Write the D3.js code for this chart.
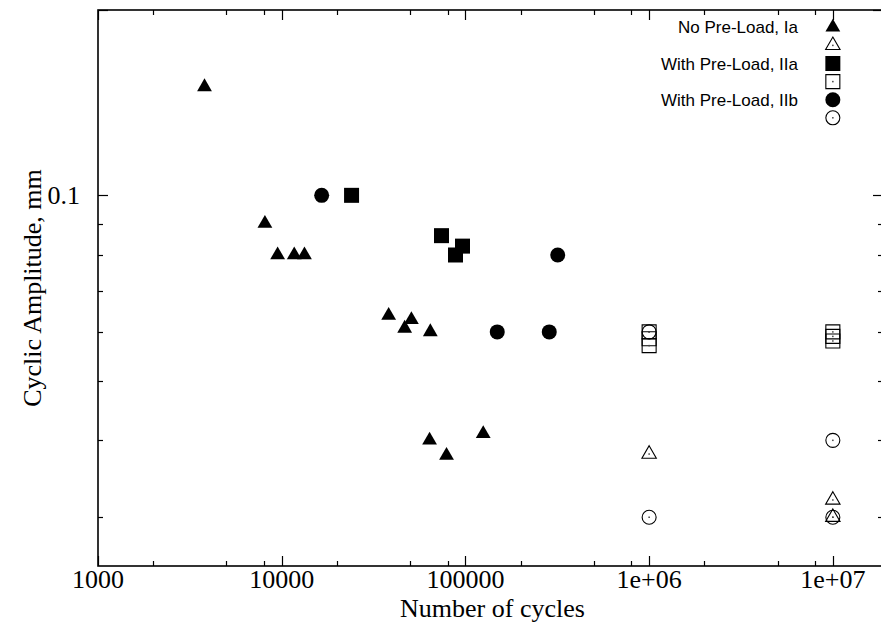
<!DOCTYPE html>
<html lang="en">
<head>
  <meta charset="UTF-8">
  <title>Cyclic Amplitude vs Number of cycles</title>
  <script src="https://cdn.jsdelivr.net/npm/d3@7"></script>
  <style>
    body { margin: 0; background: #fff; }
    svg { display: block; }
    .axis-text { font-family: "Liberation Serif", "Times New Roman", serif; font-size: 26px; fill: #000; }
    .legend-text { font-family: "Liberation Sans", Arial, sans-serif; font-size: 17px; fill: #000; }
  </style>
</head>
<body>
<div id="chart"></div>
<script>
  // No Pre-Load, Ia
  const iaCycles = [3800, 8100, 9500, 11700, 13300, 38200, 50800, 46700, 64400, 63800, 78900, 125000];
  const iaAmp    = [0.15, 0.09, 0.08, 0.08, 0.08, 0.0638, 0.0628, 0.0608, 0.06, 0.04, 0.0378, 0.041];
  // run-outs (open)
  const iaOpenCycles = [1e6, 1e7, 1e7];
  const iaOpenAmp    = [0.038, 0.032, 0.03];

  // With Pre-Load, IIa
  const iiaCycles = [24000, 74100, 96400, 88300];
  const iiaAmp    = [0.1, 0.086, 0.0827, 0.08];
  const iiaOpenCycles = [1e6, 1e6, 1e6, 1e7, 1e7, 1e7];
  const iiaOpenAmp    = [0.06, 0.0585, 0.057, 0.06, 0.059, 0.058];

  // With Pre-Load, IIb
  const iibCycles = [16500, 318000, 149000, 286000];
  const iibAmp    = [0.1, 0.08, 0.06, 0.06];
  const iibOpenCycles = [1e6, 1e6, 1e7, 1e7];
  const iibOpenAmp    = [0.06, 0.03, 0.04, 0.03];

  const xMajorTicks = [1000, 10000, 100000, 1e6, 1e7];
  const xTickLabels = ["1000", "10000", "100000", "1e+06", "1e+07"];
  const xMinorTicks = [2000, 5000, 8000, 20000, 50000, 80000, 200000, 500000, 800000, 2e6, 5e6, 8e6];
  const yMajorTicks = [0.1, 0.2];
  const yTickLabels = ["0.1", ""];
  const yMinorTicks = [0.03, 0.04, 0.05, 0.06, 0.07, 0.08, 0.09];

  const legendTitles = ["No Pre-Load, Ia", "", "With Pre-Load, IIa", "", "With Pre-Load, IIb", ""];

  const width = 881, height = 625;
  const plotLeft = 98, plotRight = 883, plotTop = 10, plotBottom = 566;

  const x = d3.scaleLog().domain([1000, 1.875e7]).range([plotLeft, plotRight]);
  const y = d3.scaleLog().domain([0.025, 0.2]).range([plotBottom, plotTop]);

  const svg = d3.select('#chart').append('svg')
    .attr('width', width)
    .attr('height', height);

  // symbol generators
  const filledTri = d3.symbol(d3.symbolTriangle, 95);
  const openTri = d3.symbol(d3.symbolTriangle, 90);
  const filledSq = d3.symbol(d3.symbolSquare, 225);
  const openSq = d3.symbol(d3.symbolSquare, 196);
  const filledCirc = d3.symbol(d3.symbolCircle, 177);
  const openCirc = d3.symbol(d3.symbolCircle, 154);

  const series = [
    { xs: iaCycles, ys: iaAmp, sym: filledTri, open: false },
    { xs: iaOpenCycles, ys: iaOpenAmp, sym: openTri, open: true },
    { xs: iiaCycles, ys: iiaAmp, sym: filledSq, open: false },
    { xs: iiaOpenCycles, ys: iiaOpenAmp, sym: openSq, open: true },
    { xs: iibCycles, ys: iibAmp, sym: filledCirc, open: false },
    { xs: iibOpenCycles, ys: iibOpenAmp, sym: openCirc, open: true }
  ];

  // ticks (inward, mirrored)
  const tickG = svg.append('g').attr('stroke', '#000').attr('stroke-width', 1.2);
  const xt = [...xMajorTicks.map(v => ({ v, len: 10 })), ...xMinorTicks.map(v => ({ v, len: 5 }))];
  const yt = [...yMajorTicks.map(v => ({ v, len: 10 })), ...yMinorTicks.map(v => ({ v, len: 5 }))];

  xt.forEach(t => {
    const px = Math.round(x(t.v)) + 0.5;
    tickG.append('line').attr('x1', px).attr('x2', px).attr('y1', plotBottom).attr('y2', plotBottom - t.len);
    tickG.append('line').attr('x1', px).attr('x2', px).attr('y1', plotTop).attr('y2', plotTop + t.len);
  });
  yt.forEach(t => {
    const py = Math.round(y(t.v)) + 0.5;
    tickG.append('line').attr('x1', plotLeft).attr('x2', plotLeft + t.len).attr('y1', py).attr('y2', py);
    tickG.append('line').attr('x1', plotRight).attr('x2', plotRight - t.len).attr('y1', py).attr('y2', py);
  });

  // border
  svg.append('rect')
    .attr('x', plotLeft).attr('y', plotTop)
    .attr('width', plotRight - plotLeft).attr('height', plotBottom - plotTop)
    .attr('fill', 'none').attr('stroke', '#000').attr('stroke-width', 1.6);

  // tick labels
  svg.selectAll('.xlab')
    .data(xMajorTicks)
    .join('text')
    .attr('class', 'axis-text')
    .attr('x', d => x(d))
    .attr('y', 588)
    .attr('text-anchor', 'middle')
    .text((d, i) => xTickLabels[i]);

  svg.selectAll('.ylab')
    .data(yMajorTicks)
    .join('text')
    .attr('class', 'axis-text')
    .attr('x', 80)
    .attr('y', d => y(d) + 9)
    .attr('text-anchor', 'end')
    .text((d, i) => yTickLabels[i]);

  // axis titles
  svg.append('text')
    .attr('class', 'axis-text')
    .attr('x', (plotLeft + 881) / 2 + 3)
    .attr('y', 617)
    .attr('text-anchor', 'middle')
    .text('Number of cycles');

  svg.append('text')
    .attr('class', 'axis-text')
    .attr('transform', 'translate(41,288) rotate(-90)')
    .attr('text-anchor', 'middle')
    .text('Cyclic Amplitude, mm');

  // points
  const drawMarker = (g, s, px, py) => {
    g.append('path')
      .attr('transform', `translate(${px},${py})`)
      .attr('d', s.sym())
      .attr('fill', s.open ? 'none' : '#000')
      .attr('stroke', s.open ? '#000' : 'none')
      .attr('stroke-width', 1.1);
    if (s.open) {
      g.append('rect')
        .attr('x', px - 0.75).attr('y', py - 0.75)
        .attr('width', 1.5).attr('height', 1.5)
        .attr('fill', '#444');
    }
  };

  const pointsG = svg.append('g');
  series.forEach(s => {
    s.xs.forEach((xv, i) => drawMarker(pointsG, s, x(xv), y(s.ys[i])));
  });

  // legend
  const legendG = svg.append('g');
  const legendX = x(1e7);
  const rowY = i => 27.3 + i * 18.1;
  series.forEach((s, i) => {
    drawMarker(legendG, s, legendX, rowY(i));
    if (legendTitles[i]) {
      legendG.append('text')
        .attr('class', 'legend-text')
        .attr('x', 798)
        .attr('y', rowY(i) + 6)
        .attr('text-anchor', 'end')
        .text(legendTitles[i]);
    }
  });
</script>
</body>
</html>
